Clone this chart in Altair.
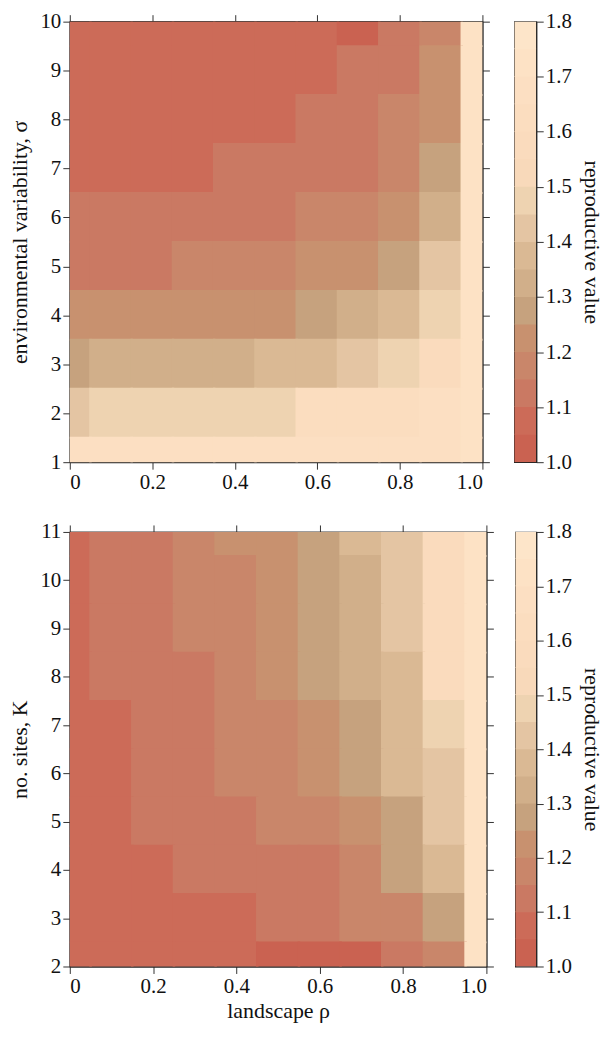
import altair as alt
import pandas as pd

# ---------------- data ----------------
rho = [0.0, 0.1, 0.2, 0.3, 0.4, 0.5, 0.6, 0.7, 0.8, 0.9, 1.0]

sigma = [10, 9, 8, 7, 6, 5, 4, 3, 2, 1]
rv_sigma = [
    [1.07, 1.07, 1.07, 1.07, 1.07, 1.07, 1.07, 1.03, 1.12, 1.17, 1.72],
    [1.07, 1.07, 1.07, 1.07, 1.07, 1.07, 1.07, 1.12, 1.12, 1.22, 1.72],
    [1.07, 1.07, 1.07, 1.07, 1.07, 1.07, 1.12, 1.12, 1.17, 1.22, 1.72],
    [1.07, 1.07, 1.07, 1.07, 1.12, 1.12, 1.12, 1.12, 1.17, 1.28, 1.72],
    [1.12, 1.12, 1.12, 1.12, 1.12, 1.12, 1.17, 1.17, 1.22, 1.32, 1.72],
    [1.12, 1.12, 1.12, 1.17, 1.17, 1.17, 1.22, 1.22, 1.28, 1.42, 1.72],
    [1.22, 1.22, 1.22, 1.22, 1.22, 1.22, 1.28, 1.32, 1.37, 1.47, 1.72],
    [1.28, 1.32, 1.32, 1.32, 1.32, 1.37, 1.37, 1.42, 1.47, 1.58, 1.72],
    [1.42, 1.47, 1.47, 1.47, 1.47, 1.47, 1.62, 1.62, 1.62, 1.67, 1.72],
    [1.67, 1.67, 1.67, 1.67, 1.67, 1.67, 1.67, 1.67, 1.67, 1.67, 1.72],
]

sites = [11, 10, 9, 8, 7, 6, 5, 4, 3, 2]
rv_sites = [
    [1.07, 1.12, 1.12, 1.17, 1.22, 1.22, 1.28, 1.37, 1.42, 1.58, 1.72],
    [1.07, 1.12, 1.12, 1.17, 1.17, 1.22, 1.28, 1.32, 1.42, 1.58, 1.72],
    [1.07, 1.12, 1.12, 1.17, 1.17, 1.22, 1.28, 1.32, 1.42, 1.58, 1.72],
    [1.07, 1.12, 1.12, 1.12, 1.17, 1.22, 1.28, 1.32, 1.37, 1.58, 1.72],
    [1.07, 1.07, 1.12, 1.12, 1.17, 1.17, 1.22, 1.28, 1.37, 1.47, 1.72],
    [1.07, 1.07, 1.12, 1.12, 1.17, 1.17, 1.22, 1.28, 1.37, 1.42, 1.72],
    [1.07, 1.07, 1.12, 1.12, 1.12, 1.17, 1.17, 1.22, 1.28, 1.42, 1.72],
    [1.07, 1.07, 1.07, 1.12, 1.12, 1.12, 1.12, 1.17, 1.28, 1.37, 1.72],
    [1.07, 1.07, 1.07, 1.07, 1.07, 1.12, 1.12, 1.17, 1.17, 1.28, 1.72],
    [1.07, 1.07, 1.07, 1.07, 1.07, 1.04, 1.04, 1.04, 1.12, 1.17, 1.72],
]

# colour bar levels (lower edges of the 16 bins) and their colours
levels = [1.00, 1.05, 1.10, 1.15, 1.20, 1.25, 1.30, 1.35,
          1.40, 1.45, 1.50, 1.55, 1.60, 1.65, 1.70, 1.75]
level_colors = ["#ca6251", "#cc6b58", "#ca7963", "#c9866a",
                "#c8916f", "#c6a27e", "#d1af8a", "#dab994",
                "#e4c5a3", "#eed3b1", "#f8d9ba", "#fadbbd",
                "#fbddbf", "#fcdfc2", "#fde2c5", "#fde5c9"]
cbar_ticks = [1.0, 1.1, 1.2, 1.3, 1.4, 1.5, 1.6, 1.7, 1.8]
rho_ticks = [0.0, 0.2, 0.4, 0.6, 0.8, 1.0]

FONT = "Liberation Serif"
step = levels[1] - levels[0]

cscale = alt.Scale(type="threshold", domain=levels[1:], range=level_colors)


def long_table(rows, yvals, yname):
    recs = []
    for yv, row in zip(yvals, rows):
        for r, v in zip(rho, row):
            recs.append({yname: yv, "rho": r, "value": v})
    return pd.DataFrame(recs)


def heat(df, yname, yticks, ytitle, xtitle, w, h, tpad):
    # half cell sizes, slightly widened so neighbouring cells overlap (no seams)
    base = alt.Chart(df).transform_calculate(
        x0="datum.rho - 0.053", x1="datum.rho + 0.053",
        y0=f"datum.{yname} - 0.52", y1=f"datum.{yname} + 0.52",
    )
    xs = alt.Scale(domain=[0, 1], nice=False, zero=False)
    ys = alt.Scale(domain=[min(yticks), max(yticks)], nice=False, zero=False)
    xlab = "datum.value == 0 ? '0' : format(datum.value, '.1f')"
    if xtitle:
        xaxis = alt.Axis(values=rho_ticks, labelExpr=xlab, title=xtitle,
                         titlePadding=4)
    else:
        xaxis = alt.Axis(values=rho_ticks, labelExpr=xlab, title=None)
    cells = base.mark_rect(clip=True).encode(
        x=alt.X("x0:Q", scale=xs, axis=xaxis),
        x2="x1:Q",
        y=alt.Y("y0:Q", scale=ys,
                axis=alt.Axis(values=yticks, format="d", title=ytitle,
                              titlePadding=tpad)),
        y2="y1:Q",
        color=alt.Color("value:Q", scale=cscale, legend=None),
    )
    mirror = base.mark_rect(opacity=0, clip=True).encode(
        x=alt.X("x0:Q", scale=xs,
                axis=alt.Axis(orient="top", values=rho_ticks, labels=False,
                              title=None)),
        x2="x1:Q",
        y=alt.Y("y0:Q", scale=ys,
                axis=alt.Axis(orient="right", values=yticks, labels=False,
                              title=None)),
        y2="y1:Q",
    )
    return alt.layer(cells, mirror).resolve_axis(
        x="independent", y="independent").properties(width=w, height=h)


def colorbar(w, h):
    cb = pd.DataFrame({"lo": levels,
                       "hi": [l + step * 1.03 for l in levels],
                       "mid": [l + step / 2 for l in levels]})
    return alt.Chart(cb).mark_rect(clip=True).encode(
        x=alt.value(0), x2=alt.value(w),
        y=alt.Y("lo:Q", scale=alt.Scale(domain=[1.0, 1.8], nice=False, zero=False),
                axis=alt.Axis(orient="right", values=cbar_ticks, format=".1f",
                              title="reproductive value", titlePadding=8)),
        y2="hi:Q",
        color=alt.Color("mid:Q", scale=cscale, legend=None),
    ).properties(width=w, height=h)


top = alt.hconcat(
    heat(long_table(rv_sigma, sigma, "sigma"), "sigma", list(range(1, 11)),
         "environmental variability, σ", None, 414, 442, 8),
    colorbar(22, 442),
    spacing=22,
)
bottom = alt.hconcat(
    heat(long_table(rv_sites, sites, "K"), "K", list(range(2, 12)),
         "no. sites, K", "landscape ρ", 418, 436, 8),
    colorbar(21, 436),
    spacing=19,
)

chart = alt.vconcat(top, bottom, spacing=27).properties(
    padding={"left": 0, "top": 0, "right": 2, "bottom": 0}
).configure_view(stroke="#222", strokeWidth=1.2).configure_axis(
    labelFont=FONT, titleFont=FONT, labelFontSize=21, titleFontSize=22,
    titleFontWeight="normal", labelColor="#111", titleColor="#111",
    tickSize=7, tickWidth=1, tickColor="#333", domainColor="#222",
    domainWidth=1.2, labelPadding=2, grid=False,
)

chart.save("out.html", embed_options={"renderer": "svg", "actions": False})
